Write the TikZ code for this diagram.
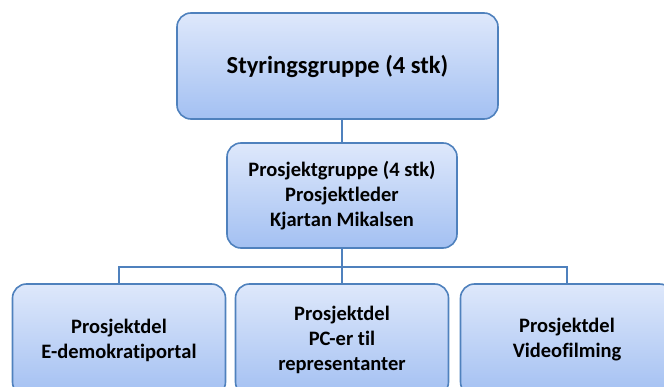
\documentclass[tikz,border=0pt]{standalone}
\usepackage{fontspec}
\setmainfont{Carlito}[RawFeature=-liga]
\definecolor{boxline}{RGB}{79,129,189}
\definecolor{boxtop}{RGB}{222,232,251}
\definecolor{boxbottom}{RGB}{163,192,242}
\tikzset{
  orgbox/.style={draw=boxline, line width=1.6pt, rounded corners=14pt,
    top color=boxtop, bottom color=boxbottom, align=center, inner sep=0pt,
    font=\bfseries\fontsize{20.5}{25}\selectfont},
  link/.style={draw=boxline, line width=1.6pt}
}
\begin{document}
\begin{tikzpicture}[x=1pt, y=-1pt]

        \useasboundingbox (0,0) rectangle (664,387);
        \clip (0,0) rectangle (664,387);

        % nodes
        \node[orgbox, minimum width=321pt, minimum height=106pt,
          font=\bfseries\fontsize{24.5}{28}\selectfont] (styring) at (337.5,66) {Styringsgruppe (4 stk)};
        \node[orgbox, minimum width=230pt, minimum height=105pt] (prosjekt) at (342,195.5)
          {Prosjektgruppe (4 stk)\\Prosjektleder\\Kjartan Mikalsen};
        \node[orgbox, minimum width=213pt, minimum height=112pt] (edemo) at (119,340)
          {Prosjektdel\\E-demokratiportal};
        \node[orgbox, minimum width=213pt, minimum height=112pt] (pc) at (342,340)
          {Prosjektdel\\PC-er til\\representanter};
        \node[orgbox, minimum width=213pt, minimum height=112pt] (video) at (567,340)
          {Prosjektdel\\Videofilming};
        \coordinate (bar) at (342,267);

        % edges
        \draw[link] (prosjekt.north) -- (prosjekt.north |- styring.south);
        \draw[link] (prosjekt.south) -- (pc.north);
        \draw[link] (edemo.north) |- (bar) -| (video.north);

\end{tikzpicture}
\end{document}
